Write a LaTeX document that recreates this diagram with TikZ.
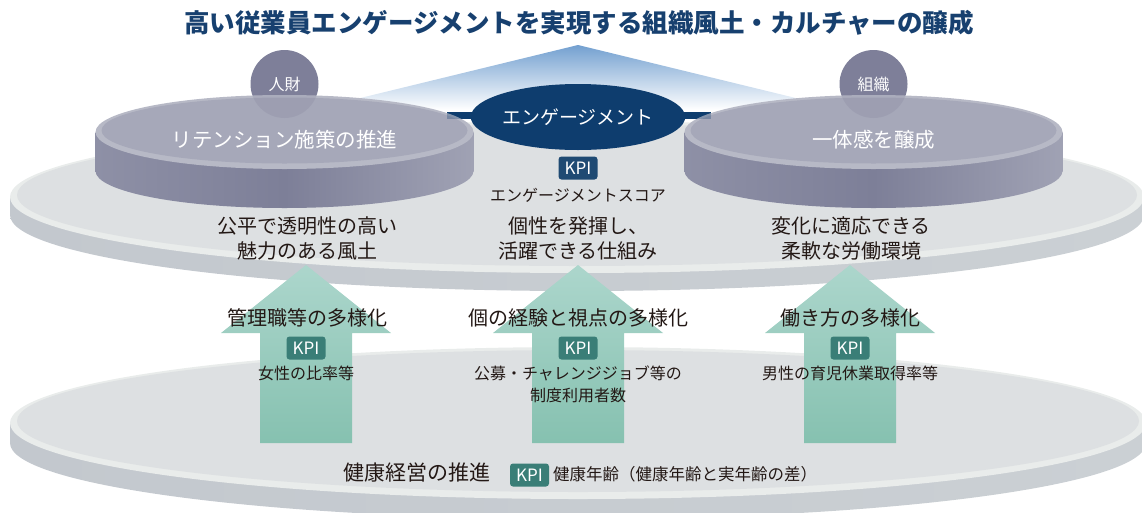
\documentclass[tikz,border=0pt]{standalone}
\usepackage{fontspec}
\setmainfont{Noto Sans CJK JP}
\usetikzlibrary{shapes.geometric}
\definecolor{navy}{HTML}{0E3D6E}
\definecolor{titlec}{HTML}{17406F}
\definecolor{txt}{HTML}{231815}
\definecolor{cyltop}{HTML}{A6A8B9}
\definecolor{cylrim}{HTML}{B7B9C6}
\definecolor{cylsideL}{HTML}{8E90A6}
\definecolor{cylsideM}{HTML}{7D7F98}
\definecolor{cylsideR}{HTML}{A0A2B4}
\definecolor{circ}{HTML}{7E7F99}
\definecolor{disctop}{HTML}{DDE0E2}
\definecolor{discrim}{HTML}{E9ECEB}
\definecolor{discsideL}{HTML}{C3C8CE}
\definecolor{discsideR}{HTML}{CBD0D4}
\definecolor{arrowtop}{HTML}{ACD6CC}
\definecolor{arrowbot}{HTML}{86C1B0}
\definecolor{kpiteal}{HTML}{3A7E77}
\definecolor{kpinavy}{HTML}{1F4A73}
\definecolor{tri}{HTML}{73A0D0}
\begin{document}
\begin{tikzpicture}[x=1pt,y=-1pt,
  ttl/.style={font=\fontsize{25.5}{30}\selectfont\bfseries, text=titlec, inner sep=0},
  circlab/.style={circle, fill=circ, minimum size=68pt, inner sep=0, text=white, font=\fontsize{16}{18}\selectfont},
  cyllab/.style={text=white, font=\fontsize{20.5}{24}\selectfont, inner sep=0},
  englab/.style={ellipse, fill=navy, minimum width=176pt, minimum height=66pt, inner sep=0, text=white, font=\fontsize{19}{22}\selectfont},
  kpi/.style={fill=#1, rounded corners=3pt, minimum width=39pt, minimum height=23pt, inner sep=0, text=white, font=\fontsize{17}{19}\selectfont},
  disclab/.style={text=txt, align=center, font=\fontsize{20}{25}\selectfont, inner sep=0},
  arrlab/.style={text=txt, font=\fontsize{20}{24}\selectfont, inner sep=0},
  sublab/.style={text=txt, align=center, font=\fontsize{16}{22}\selectfont, inner sep=0},
  upbar/.style={top color=arrowtop, bottom color=arrowbot}
]
\useasboundingbox (0,0) rectangle (1142,512);
\clip (0,0) rectangle (1142,512);

% rising triangle
\shade[top color=tri, bottom color=white] (578,45) -- (845,110) -- (311,110) -- cycle;

% middle disc
\shade[left color=discsideL, right color=discsideR] (10,197) rectangle (1144,215);
\shade[left color=discsideL, right color=discsideR] (577,215) ellipse [x radius=567, y radius=76];
\fill[discrim] (577,197) ellipse [x radius=567, y radius=76];
\fill[disctop] (577,195) ellipse [x radius=560, y radius=71];

% bottom disc
\shade[left color=discsideL, right color=discsideR] (10,423) rectangle (1146,443);
\shade[left color=discsideL, right color=discsideR] (578,443) ellipse [x radius=568, y radius=76];
\fill[discrim] (578,423) ellipse [x radius=568, y radius=76];
\fill[disctop] (578,421) ellipse [x radius=561, y radius=71];

% connecting bar
\coordinate (barL) at (447,115.5);
\coordinate (barR) at (711,115.5);
\draw[navy, line width=7pt] (barL) -- (barR);

% circles
\node[circlab] (jinzai) at (284.5,84) {人財};
\node[circlab] (soshiki) at (873.5,84) {組織};

% cylinders
\foreach \cx in {284.5,873.5} {
  \shade[left color=cylsideL, right color=cylsideR, middle color=cylsideM] (\cx-189,132) rectangle (\cx+189,171);
  \shade[left color=cylsideL, right color=cylsideR, middle color=cylsideM] (\cx,171) ellipse [x radius=189, y radius=37];
  \fill[cylrim] (\cx,132) ellipse [x radius=189, y radius=37];
  \fill[cyltop] (\cx,130.5) ellipse [x radius=183, y radius=33];
  \begin{scope}
    \clip (\cx,132) ellipse [x radius=189, y radius=37];
    \fill[circ, opacity=0.22] (\cx,84) circle (34);
    \fill[navy, opacity=0.3] (447,112) rectangle (711,119);
  \end{scope}
}
\node[cyllab] (retention) at (284.5,140) {リテンション施策の推進};
\node[cyllab] (ittai) at (873.5,140) {一体感を醸成};

% engagement
\node[englab] (eng) at (578,117) {エンゲージメント};
\node[kpi=kpinavy] (kpiE) at (578,168) {KPI};
\node[sublab] (engscore) at (578,195) {エンゲージメントスコア};

% title
\node[ttl] (title) at (579,23) {高い従業員エンゲージメントを実現する組織風土・カルチャーの醸成};

% disc labels
\node[disclab] (fudo) at (307,238) {公平で透明性の高い\\魅力のある風土};
\node[disclab] (shikumi) at (578,238) {個性を発揮し、\\活躍できる仕組み};
\node[disclab] (kankyo) at (851,238) {変化に適応できる\\柔軟な労働環境};

% arrows
\foreach \c in {306,578,850} {
  \shade[upbar] (\c,265) -- (\c+85,333) -- (\c+46,333) -- (\c+46,443) -- (\c-46,443) -- (\c-46,333) -- (\c-85,333) -- cycle;
}

\node[arrlab] (a1) at (307,318) {管理職等の多様化};
\node[arrlab] (a2) at (578,318) {個の経験と視点の多様化};
\node[arrlab] (a3) at (850,318) {働き方の多様化};
\node[kpi=kpiteal] (k1) at (306,348) {KPI};
\node[kpi=kpiteal] (k2) at (578,348) {KPI};
\node[kpi=kpiteal] (k3) at (850,348) {KPI};
\node[sublab] (s1) at (306,373) {女性の比率等};
\node[sublab] (s2) at (578,384) {公募・チャレンジジョブ等の\\制度利用者数};
\node[sublab] (s3) at (850,373) {男性の育児休業取得率等};

% bottom labels
\node[font=\fontsize{21}{24}\selectfont, text=txt, inner sep=0] (health) at (416.5,473) {健康経営の推進};
\node[kpi=kpiteal] (k4) at (529.5,475) {KPI};
\node[sublab, anchor=west, font=\fontsize{16.5}{22}\selectfont] (age) at (553,474) {健康年齢（健康年齢と実年齢の差）};
\end{tikzpicture}
\end{document}
